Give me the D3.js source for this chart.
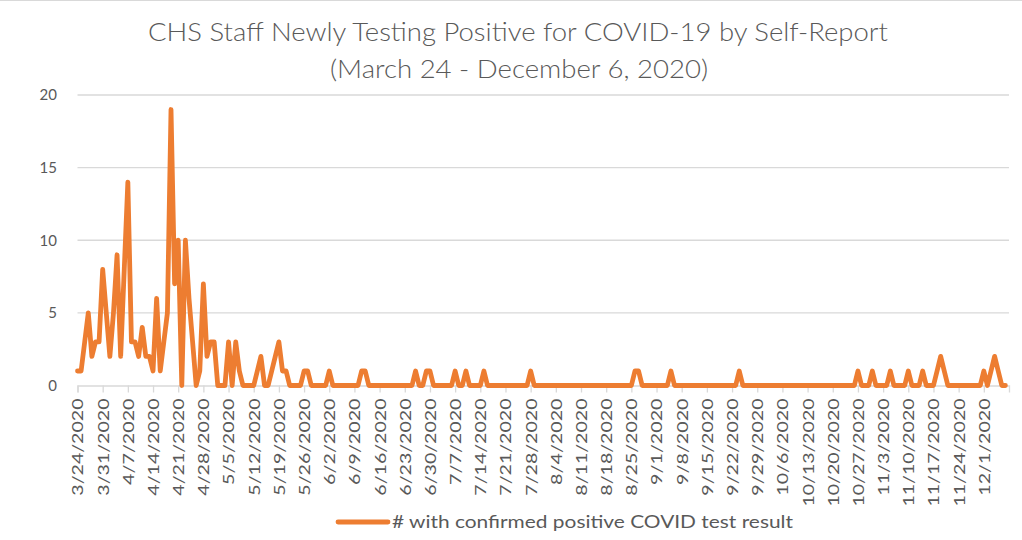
<!DOCTYPE html>
<html><head><meta charset="utf-8">
<script src="https://cdn.jsdelivr.net/npm/d3@7"></script>
<style>html,body{margin:0;padding:0;background:#fff}svg{display:block}</style>
</head><body>
<svg id="chart" width="1022" height="540"></svg>
<script>
const titleLines = ["CHS Staff Newly Testing Positive for COVID-19 by Self-Report", "(March 24 - December 6, 2020)"];
const seriesName = "# with confirmed positive COVID test result";
const firstDay = "3/24/2020";
const axisEndDay = "12/8/2020";
// one value per day starting at firstDay
const values = [
  1,1,3,5,2,3,3,8,5,2,
  5,9,2,8,14,3,3,2,4,2,
  2,1,6,1,3,5,19,7,10,0,
  10,6,3,0,1,7,2,3,3,0,
  0,0,3,0,3,1,0,0,0,0,
  1,2,0,0,1,2,3,1,1,0,
  0,0,0,1,1,0,0,0,0,0,
  1,0,0,0,0,0,0,0,0,1,
  1,0,0,0,0,0,0,0,0,0,
  0,0,0,0,1,0,0,1,1,0,
  0,0,0,0,0,1,0,0,1,0,
  0,0,0,1,0,0,0,0,0,0,
  0,0,0,0,0,0,1,0,0,0,
  0,0,0,0,0,0,0,0,0,0,
  0,0,0,0,0,0,0,0,0,0,
  0,0,0,0,0,1,1,0,0,0,
  0,0,0,0,0,1,0,0,0,0,
  0,0,0,0,0,0,0,0,0,0,
  0,0,0,0,1,0,0,0,0,0,
  0,0,0,0,0,0,0,0,0,0,
  0,0,0,0,0,0,0,0,0,0,
  0,0,0,0,0,0,0,1,0,0,
  0,1,0,0,0,0,1,0,0,0,
  0,1,0,0,0,1,0,0,0,1,
  2,1,0,0,0,0,0,0,0,0,
  0,0,1,0,1,2,1,0,0
];
const tickLabels = ["3/24/2020","3/31/2020","4/7/2020","4/14/2020","4/21/2020","4/28/2020","5/5/2020","5/12/2020","5/19/2020","5/26/2020","6/2/2020","6/9/2020","6/16/2020","6/23/2020","6/30/2020","7/7/2020","7/14/2020","7/21/2020","7/28/2020","8/4/2020","8/11/2020","8/18/2020","8/25/2020","9/1/2020","9/8/2020","9/15/2020","9/22/2020","9/29/2020","10/6/2020","10/13/2020","10/20/2020","10/27/2020","11/3/2020","11/10/2020","11/17/2020","11/24/2020","12/1/2020"];
const yTicks = [0,5,10,15,20];

const parse = d3.utcParse("%m/%d/%Y");
const start = parse(firstDay);
const data = values.map((v, i) => ({date: d3.utcDay.offset(start, i), value: v}));

const svg = d3.select("#chart");
const textColor = "#595959", gridColor = "#d9d9d9", lineColor = "#ED7D31";
const font = "Lato, 'Open Sans', sans-serif";

svg.append("rect").attr("x",0).attr("y",0).attr("width",1022).attr("height",540).attr("fill","#fff");
svg.append("line").attr("x1",0).attr("x2",1022).attr("y1",0.5).attr("y2",0.5).attr("stroke",gridColor).attr("stroke-width",1);

const x = d3.scaleUtc().domain([start, parse(axisEndDay)]).range([77.5, 1009]);
const y = d3.scaleLinear().domain([0, 20]).range([385.5, 95]);

// gridlines
svg.append("g").selectAll("line").data(yTicks.filter(d => d > 0)).join("line")
  .attr("x1", x.range()[0]).attr("x2", x.range()[1])
  .attr("y1", d => y(d)).attr("y2", d => y(d))
  .attr("stroke", gridColor).attr("stroke-width", 1.3);

// y axis labels
const yAxis = d3.axisLeft(y).tickValues(yTicks).tickSize(0).tickPadding(0);
const yg = svg.append("g").attr("transform", "translate(57,0)").call(yAxis);
yg.select(".domain").remove();
yg.selectAll("text").attr("font-family", font).attr("font-size", 15).attr("fill", textColor);

// x axis
const tickDates = tickLabels.map(parse);
const xAxis = d3.axisBottom(x).tickValues(tickDates)
  .tickFormat((d, i) => tickLabels[i]).tickSize(7).tickSizeOuter(7);
const xg = svg.append("g").attr("transform", `translate(0,${y(0)})`).call(xAxis);
xg.select(".domain").attr("stroke", gridColor).attr("stroke-width", 1.3);
xg.selectAll(".tick line").attr("stroke", gridColor).attr("stroke-width", 1.3);
xg.selectAll(".tick text")
  .attr("font-family", font).attr("font-size", 15).attr("fill", textColor)
  .attr("transform", "rotate(-90)")
  .attr("text-anchor", "end")
  .attr("x", -13).attr("y", 0).attr("dy", "0.36em")
  .attr("textLength", function(d, i){ return tickLabels[i].length * 10.8; })
  .attr("lengthAdjust", "spacingAndGlyphs");

// series line
const line = d3.line().x(d => x(d.date)).y(d => y(d.value));
svg.append("path").datum(data).attr("d", line)
  .attr("fill", "none").attr("stroke", lineColor).attr("stroke-width", 4.8)
  .attr("stroke-linejoin", "round").attr("stroke-linecap", "round");

// title
svg.append("text").attr("x", 518).attr("y", 41).attr("text-anchor", "middle")
  .attr("font-family", font).attr("font-weight", 300).attr("font-size", 25).attr("fill", textColor)
  .attr("textLength", 740).attr("lengthAdjust", "spacingAndGlyphs").text(titleLines[0]);
svg.append("text").attr("x", 519).attr("y", 78).attr("text-anchor", "middle")
  .attr("font-family", font).attr("font-weight", 300).attr("font-size", 25).attr("fill", textColor)
  .attr("textLength", 378).attr("lengthAdjust", "spacingAndGlyphs").text(titleLines[1]);

// legend
const lg = svg.append("g");
lg.append("line").attr("x1", 338).attr("x2", 388).attr("y1", 522).attr("y2", 522)
  .attr("stroke", lineColor).attr("stroke-width", 4.8).attr("stroke-linecap", "round");
lg.append("text").attr("x", 392).attr("y", 522).attr("dy", "0.35em")
  .attr("font-family", font).attr("font-size", 17).attr("fill", textColor)
  .attr("textLength", 401).attr("lengthAdjust", "spacingAndGlyphs").text(seriesName);
</script>
</body></html>
